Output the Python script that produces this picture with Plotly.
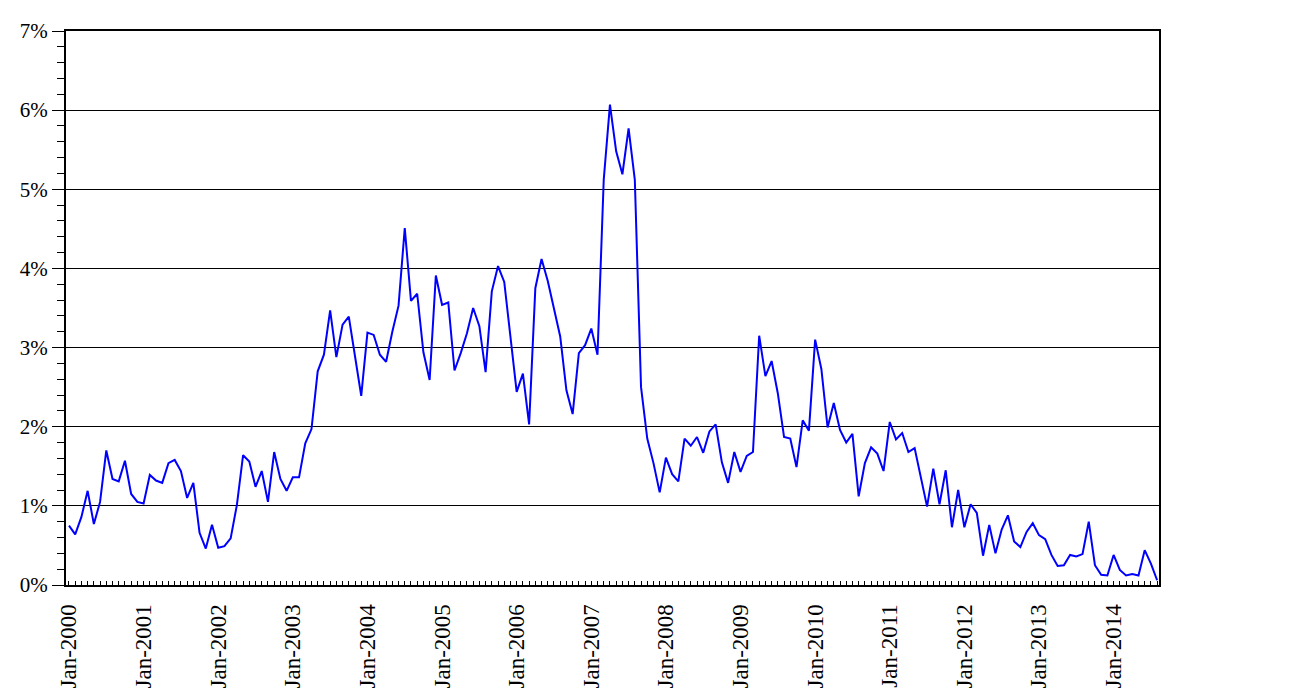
import plotly.graph_objects as go

start_year = 2000
values = [
    0.75, 0.64, 0.86, 1.19, 0.77, 1.05, 1.70, 1.34, 1.31, 1.57, 1.15, 1.05,
    1.03, 1.39, 1.32, 1.29, 1.54, 1.58, 1.44, 1.10, 1.29, 0.66, 0.46, 0.76,
    0.47, 0.49, 0.59, 1.01, 1.64, 1.56, 1.24, 1.44, 1.05, 1.68, 1.34, 1.19,
    1.36, 1.36, 1.79, 1.97, 2.70, 2.91, 3.47, 2.88, 3.29, 3.39, 2.89, 2.39,
    3.19, 3.16, 2.91, 2.82, 3.20, 3.53, 4.51, 3.59, 3.68, 2.94, 2.59, 3.91,
    3.54, 3.57, 2.71, 2.93, 3.18, 3.50, 3.27, 2.69, 3.71, 4.03, 3.83, 3.16,
    2.44, 2.67, 2.03, 3.75, 4.12, 3.84, 3.49, 3.14, 2.46, 2.16, 2.93, 3.03,
    3.24, 2.91, 5.12, 6.07, 5.48, 5.19, 5.77, 5.12, 2.50, 1.85, 1.54, 1.17,
    1.61, 1.40, 1.31, 1.85, 1.76, 1.87, 1.67, 1.94, 2.03, 1.55, 1.29, 1.68,
    1.43, 1.63, 1.68, 3.15, 2.64, 2.83, 2.42, 1.87, 1.85, 1.49, 2.08, 1.95,
    3.10, 2.73, 1.99, 2.30, 1.96, 1.80, 1.91, 1.12, 1.54, 1.74, 1.66, 1.44,
    2.06, 1.84, 1.92, 1.68, 1.73, 1.38, 0.99, 1.47, 1.02, 1.45, 0.73, 1.20,
    0.73, 1.02, 0.91, 0.37, 0.76, 0.40, 0.70, 0.88, 0.55, 0.48, 0.67, 0.78,
    0.63, 0.58, 0.38, 0.24, 0.25, 0.38, 0.36, 0.39, 0.80, 0.25, 0.13, 0.12,
    0.38, 0.19, 0.12, 0.14, 0.12, 0.44, 0.27, 0.06,
]
month_index = list(range(len(values)))
tick_positions = list(range(0, len(values), 12))
tick_labels = [f"Jan-{start_year + k}" for k in range(len(tick_positions))]
y_ticks = [0, 1, 2, 3, 4, 5, 6, 7]
y_labels = [f"{v}%" for v in y_ticks]

font_family = "Liberation Serif"

fig = go.Figure()
fig.add_trace(go.Scatter(
    x=month_index, y=values, mode="lines",
    line=dict(color="#0000FF", width=2),
    showlegend=False, hoverinfo="skip",
))

fig.update_layout(
    width=1312, height=698,
    margin=dict(l=66, r=153, t=31, b=113),
    paper_bgcolor="white", plot_bgcolor="white",
    font=dict(family=font_family, size=20, color="black"),
)
fig.update_xaxes(
    range=[-0.48, 175.3],
    tickmode="array", tickvals=tick_positions, ticktext=tick_labels,
    tickangle=-90,
    ticks="inside", ticklen=4, tickwidth=1, tickcolor="black",
    minor=dict(dtick=1, tick0=0, ticks="inside", ticklen=4, tickwidth=1, tickcolor="black", showgrid=False),
    showgrid=False, zeroline=False,
    showline=True, linecolor="black", linewidth=2, mirror=True,
    tickfont=dict(family=font_family, size=23),
    ticklabelstandoff=8,
    automargin=False,
)
fig.update_yaxes(
    range=[0, 7],
    tickmode="array", tickvals=y_ticks, ticktext=y_labels,
    ticks="outside", ticklen=12, tickwidth=1, tickcolor="black",
    minor=dict(dtick=0.2, tick0=0, ticks="outside", ticklen=7, tickwidth=1, tickcolor="black", showgrid=False),
    showgrid=True, gridcolor="black", gridwidth=1,
    zeroline=False,
    showline=True, linecolor="black", linewidth=2, mirror=True,
    tickfont=dict(family=font_family, size=21),
    automargin=False,
)

fig.write_html("out.html")
